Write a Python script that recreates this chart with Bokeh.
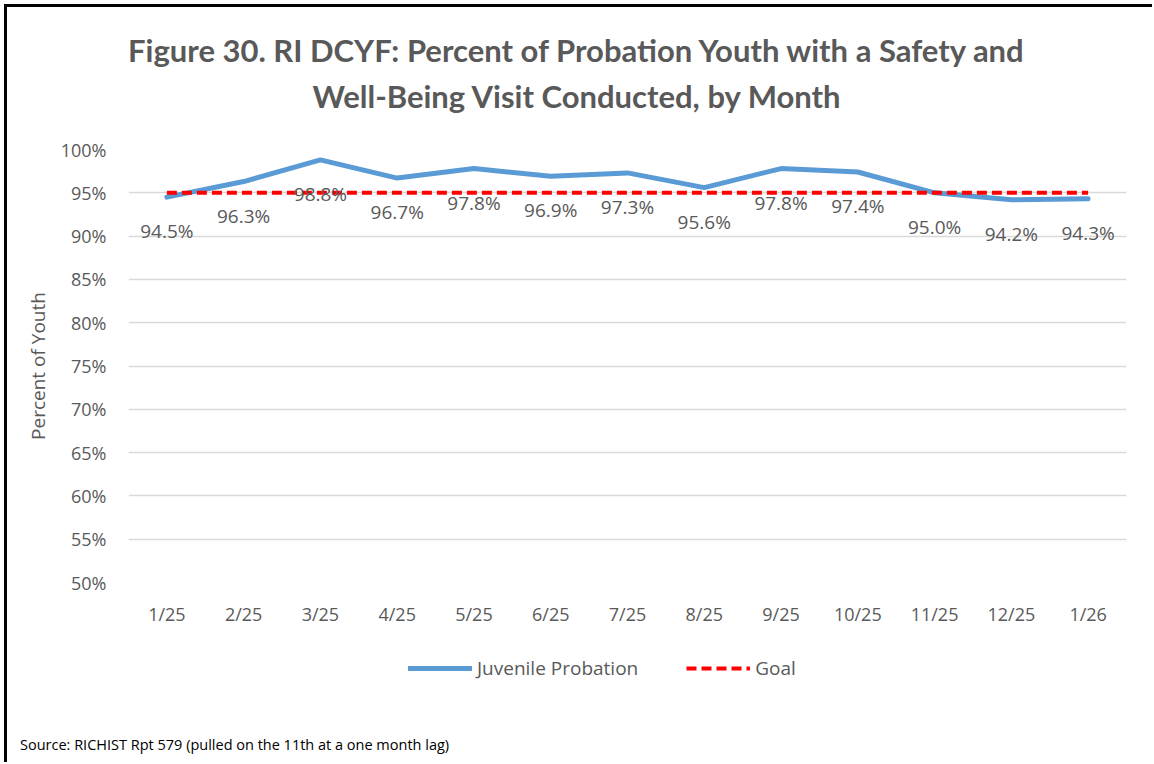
from bokeh.plotting import figure
from bokeh.layouts import column
from bokeh.models import (ColumnDataSource, FactorRange, Range1d, FixedTicker,
                          PrintfTickFormatter, Legend, LegendItem, Label, Div)
from bokeh.core.properties import value
from bokeh.embed import file_html
from bokeh.resources import INLINE

# ---------------- data ----------------
months = ["1/25", "2/25", "3/25", "4/25", "5/25", "6/25", "7/25",
          "8/25", "9/25", "10/25", "11/25", "12/25", "1/26"]
juvenile_probation = [94.5, 96.3, 98.8, 96.7, 97.8, 96.9, 97.3,
                      95.6, 97.8, 97.4, 95.0, 94.2, 94.3]
goal = [95.0] * len(months)
y_ticks = [50, 55, 60, 65, 70, 75, 80, 85, 90, 95, 100]

title_line1 = "Figure 30. RI DCYF: Percent of Probation Youth with a Safety and"
title_line2 = "Well-Being Visit Conducted, by Month"
source_note = "Source: RICHIST Rpt 579 (pulled on the 11th at a one month lag)"

TEXT = "#595959"
BLUE = "#5B9BD5"
RED = "#FF0000"
GRID = "#D9D9D9"
FONT = "Open Sans"
TITLE_FONT = "Lato"
LEFT_EDGE = {"box-shadow": "inset 4px 0 0 0 #ffffff, inset 7px 0 0 0 #000000"}
TOP_LEFT_EDGE = {"box-shadow": "inset 4px 4px 0 0 #ffffff, inset 7px 7px 0 0 #000000"}

src = ColumnDataSource(dict(
    month=months,
    val=juvenile_probation,
    goal=goal,
    label=[f"{v:.1f}%" for v in juvenile_probation],
))


def bare(fig):
    fig.background_fill_color = None
    fig.border_fill_color = None
    fig.outline_line_color = None


# ---------------- title strip ----------------
t = figure(width=1152, height=120, x_range=Range1d(0, 1), y_range=Range1d(0, 1),
           output_backend="svg", toolbar_location=None,
           x_axis_location=None, y_axis_location=None,
           min_border_left=0, min_border_right=0, min_border_top=0, min_border_bottom=0)
bare(t)
t.grid.grid_line_color = None
t.styles = TOP_LEFT_EDGE
for txt, yy in ((title_line1, 71), (title_line2, 25)):
    t.add_layout(Label(x=449, y=yy, x_units="screen", y_units="screen",
                       text=txt, text_align="center", text_baseline="middle",
                       text_font=TITLE_FONT, text_font_style="bold",
                       text_font_size="31px", text_color=TEXT))

# ---------------- main chart ----------------
p = figure(
    x_range=FactorRange(*months, range_padding=0),
    y_range=Range1d(50, 100),
    width=1152, height=520,
    output_backend="svg", toolbar_location=None,
    min_border_left=128, min_border_right=26,
    min_border_top=29, min_border_bottom=58,
)
bare(p)
p.styles = LEFT_EDGE

p.xgrid.grid_line_color = None
p.ygrid.grid_line_color = GRID
p.ygrid.grid_line_width = 1.5

p.yaxis.ticker = FixedTicker(ticks=y_ticks)
p.yaxis.formatter = PrintfTickFormatter(format="%d%%")
p.yaxis.axis_line_color = None
p.yaxis.major_tick_line_color = None
p.yaxis.minor_tick_line_color = None
p.yaxis.major_label_standoff = 16
p.yaxis.major_label_text_font = FONT
p.yaxis.major_label_text_font_size = "18px"
p.yaxis.major_label_text_color = TEXT
p.yaxis.axis_label = "Percent of Youth"
p.yaxis.axis_label_text_font = FONT
p.yaxis.axis_label_text_font_style = "normal"
p.yaxis.axis_label_text_font_size = "19px"
p.yaxis.axis_label_text_color = TEXT
p.yaxis.axis_label_standoff = 7

p.xaxis.axis_line_color = None
p.xaxis.major_tick_line_color = None
p.xaxis.minor_tick_line_color = None
p.xaxis.major_label_standoff = 13
p.xaxis.major_label_text_font = FONT
p.xaxis.major_label_text_font_size = "18px"
p.xaxis.major_label_text_color = TEXT

p.line("month", "val", source=src, line_color=BLUE, line_width=5,
       line_join="round", line_cap="round")
p.line("month", "goal", source=src, line_color=RED, line_width=4,
       line_dash="10 5")

# data labels (below points)
p.text("month", "val", text="label", source=src, y_offset=34,
       text_align="center", text_baseline="middle",
       text_font=value(FONT), text_font_size="19px", text_color=TEXT)

# ---------------- legend strip ----------------
q = figure(
    x_range=FactorRange(*months, range_padding=0),
    y_range=Range1d(0, 1),
    width=1152, height=78,
    output_backend="svg", toolbar_location=None,
    x_axis_location=None, y_axis_location=None,
    min_border_left=0, min_border_right=0, min_border_top=0, min_border_bottom=0,
)
bare(q)
q.grid.grid_line_color = None
q.styles = LEFT_EDGE

# legend swatches (series lie outside this strip's visible range)
l_jp = q.line("month", "val", source=src, line_color=BLUE, line_width=5,
              line_cap="round")
l_goal = q.line("month", "goal", source=src, line_color=RED, line_width=4,
                line_dash="10 5")

legend = Legend(items=[LegendItem(label="Juvenile Probation", renderers=[l_jp]),
                       LegendItem(label="Goal", renderers=[l_goal])],
                location=(280, 37), orientation="horizontal",
                glyph_width=64, glyph_height=20, label_height=20,
                label_standoff=5, spacing=48, padding=0, margin=0,
                border_line_color=None, background_fill_color=None,
                background_fill_alpha=0,
                label_text_font=FONT, label_text_font_size="19px",
                label_text_color=TEXT)
q.add_layout(legend, "center")

# ---------------- source note ----------------
note = Div(text=source_note, width=1152, height=44, margin=0,
           styles=dict(LEFT_EDGE, **{
               "box-sizing": "border-box", "padding-left": "20px",
               "padding-top": "18px", "font-family": FONT,
               "font-size": "14.5px", "line-height": "18px",
               "color": "#000000"}))

open("out.html", "w").write(file_html(column(t, p, q, note, spacing=0), INLINE))
